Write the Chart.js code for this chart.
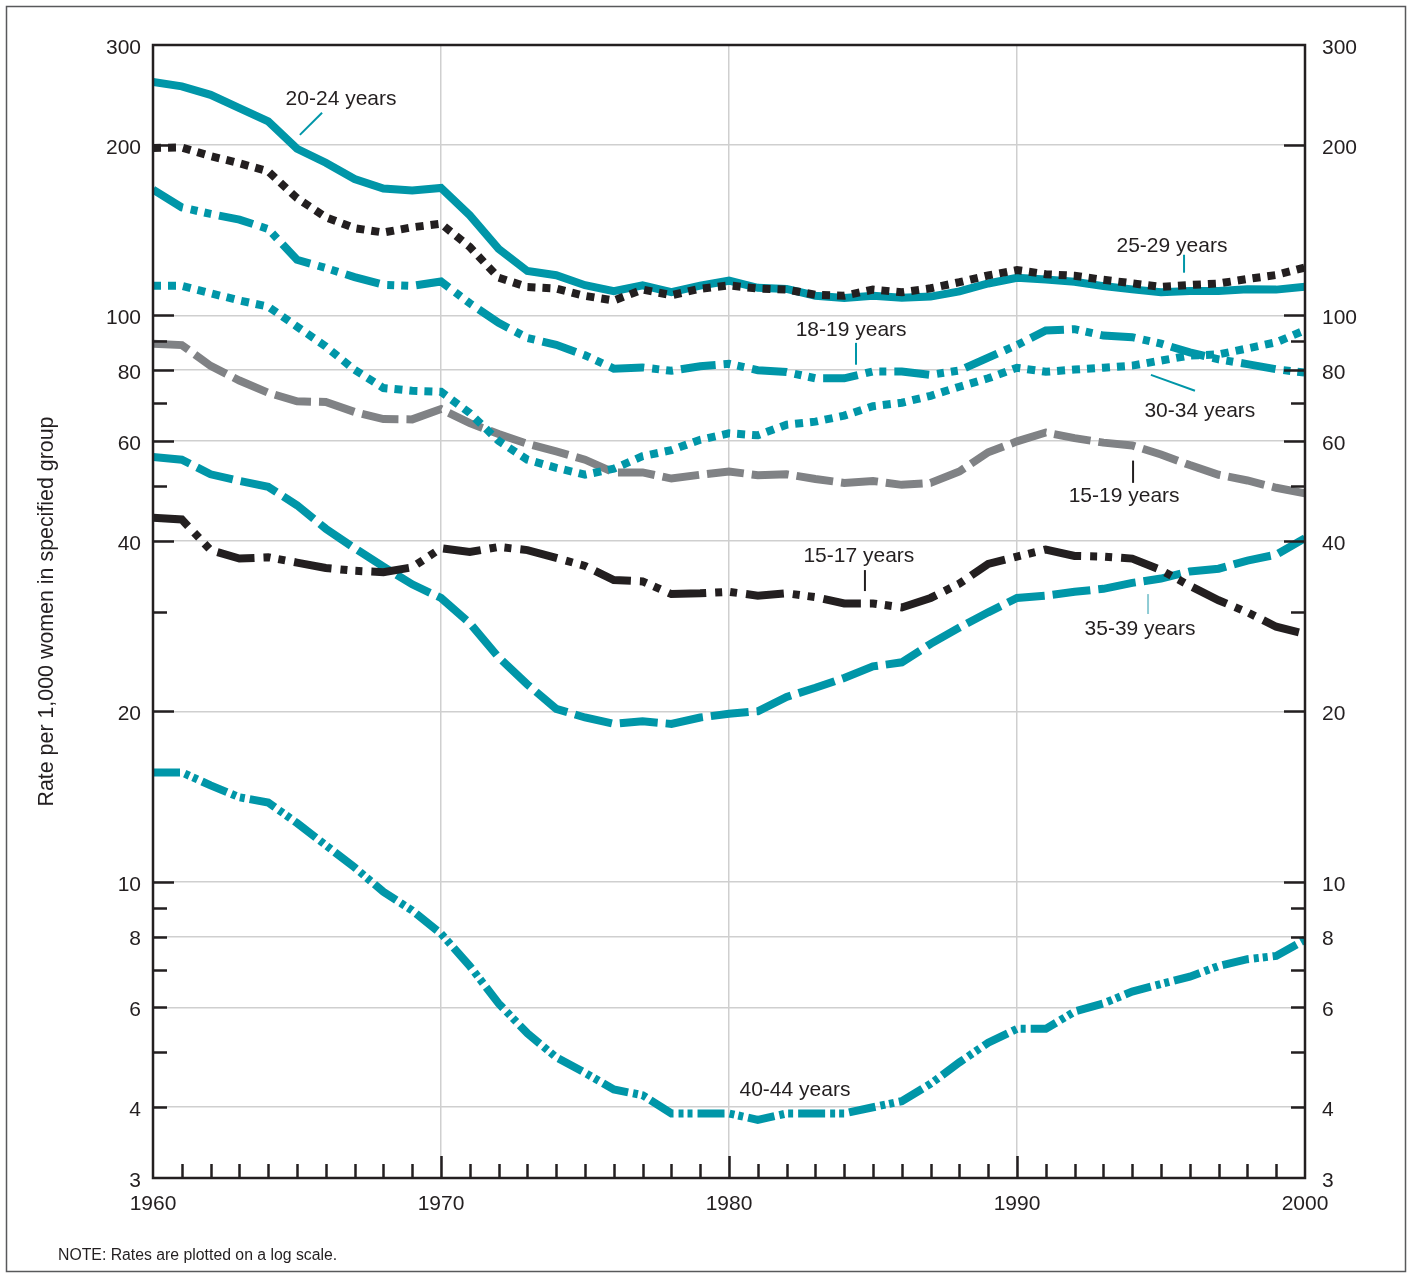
<!DOCTYPE html>
<html>
<head>
<meta charset="utf-8">
<script src="https://cdn.jsdelivr.net/npm/chart.js@4/dist/chart.umd.min.js"></script>
<style>
  html, body { margin: 0; padding: 0; background: #fff; }
  canvas { display: block; }
</style>
</head>
<body>
<canvas id="c" width="1413" height="1275"></canvas>
<script>
// ---------- DATA ----------
const years = [];
for (let y = 1960; y <= 2000; y++) years.push(y);

const rate20_24 = [258.1, 253.6, 245, 232, 220, 196.8, 185.9, 174.0, 167.4, 166.0,
                   167.8, 150.1, 131.0, 119.7, 117.7, 113.0, 110.3, 112.9, 109.9, 112.8,
                   115.1, 111.8, 111.3, 108.3, 107.3, 108.3, 107.4, 107.9, 110.2, 113.8,
                   116.5, 115.7, 114.6, 112.6, 111.1, 109.8, 110.4, 110.4, 111.2, 111.0, 112.3];
const rate25_29 = [197.4, 197.8, 191, 185.5, 179.5, 161, 149, 142.5, 140, 143,
                   145.1, 132, 116.5, 112.2, 111.5, 108.2, 106.2, 111.0, 108.5, 111.4,
                   112.9, 111.5, 111.0, 108.7, 108.3, 111.0, 109.8, 111.6, 114.4, 117.6,
                   120.2, 118.2, 117.4, 115.5, 113.9, 112.2, 113.1, 113.8, 115.9, 117.8, 121.4];
const rate18_19 = [166.7, 155, 151, 147.5, 142, 125.3, 121.2, 116.8, 113.2, 112.7,
                   114.7, 105, 97, 91.2, 88.7, 85.0, 80.5, 80.9, 79.8, 81.3,
                   82.1, 80.0, 79.4, 77.4, 77.4, 79.6, 79.6, 78.5, 79.9, 84.2,
                   88.6, 94.0, 94.5, 92.1, 91.5, 89.1, 86.0, 83.6, 82.0, 80.3, 79.2];
const rate30_34 = [112.7, 112.7, 109.4, 106.2, 103.6, 95.5, 88.1, 80.1, 74.4, 73.6,
                   73.3, 67.2, 60.0, 55.6, 53.8, 52.3, 53.6, 56.4, 57.8, 60.3,
                   61.9, 61.4, 64.1, 64.9, 66.5, 69.1, 70.1, 72.1, 74.8, 77.4,
                   80.8, 79.5, 80.2, 80.8, 81.5, 83.2, 84.9, 85.3, 87.4, 89.6, 94.1];
const rate15_19 = [89.1, 88.6, 81.4, 76.7, 73.0, 70.5, 70.3, 67.5, 65.6, 65.5,
                   68.3, 64.5, 61.7, 59.3, 57.5, 55.6, 52.8, 52.8, 51.5, 52.3,
                   53.0, 52.2, 52.4, 51.4, 50.6, 51.0, 50.2, 50.6, 53.0, 57.3,
                   59.9, 62.1, 60.7, 59.6, 58.9, 56.8, 54.4, 52.3, 51.1, 49.6, 48.5];
const rate15_17 = [43.9, 43.6, 38.5, 37.2, 37.4, 36.6, 35.8, 35.4, 35.2, 35.9,
                   38.8, 38.2, 39.0, 38.5, 37.3, 36.1, 34.1, 33.9, 32.2, 32.3,
                   32.5, 32.0, 32.3, 31.8, 31.0, 31.0, 30.5, 31.7, 33.6, 36.4,
                   37.5, 38.6, 37.6, 37.5, 37.2, 35.5, 33.3, 31.4, 29.9, 28.2, 27.4];
const rate35_39 = [56.2, 55.6, 52.4, 51.0, 49.8, 46.2, 42.0, 38.8, 36.0, 33.5,
                   31.7, 28.6, 24.9, 22.3, 20.2, 19.5, 19.0, 19.2, 19.0, 19.5,
                   19.8, 20.0, 21.2, 22.0, 22.9, 24.0, 24.4, 26.3, 28.1, 29.9,
                   31.7, 32.0, 32.5, 32.9, 33.7, 34.3, 35.3, 35.7, 36.9, 37.8, 40.4];
const rate40_44 = [15.6, 15.6, 14.8, 14.1, 13.8, 12.7, 11.6, 10.6, 9.6, 8.9,
                   8.1, 7.1, 6.1, 5.4, 4.9, 4.6, 4.3, 4.2, 3.9, 3.9,
                   3.9, 3.8, 3.9, 3.9, 3.9, 4.0, 4.1, 4.4, 4.8, 5.2,
                   5.5, 5.5, 5.9, 6.1, 6.4, 6.6, 6.8, 7.1, 7.3, 7.4, 7.9];

const yTickValues = [3, 4, 6, 8, 10, 20, 40, 60, 80, 100, 200, 300];
const xTickValues = [1960, 1970, 1980, 1990, 2000];
const yLongTicks = [10, 20, 40, 60, 80, 100, 200];
const yShortTicks = [4, 5, 6, 7, 8, 9, 30, 50, 70, 90];

// series labels: [text, year, rate]
const seriesLabels = [
  ['20-24 years', 1966.53, 241.0],
  ['25-29 years', 1995.38, 132.5],
  ['18-19 years', 1984.24, 94.3],
  ['30-34 years', 1996.35, 67.6],
  ['15-19 years', 1993.72, 48.0],
  ['15-17 years', 1984.51, 37.5],
  ['35-39 years', 1994.27, 27.95],
  ['40-44 years', 1982.29, 4.28]
];
// leader lines: [year1, rate1, year2, rate2, colour key]
const leaders = [
  [1965.87, 227.8, 1965.10, 208.2, 'teal'],
  [1995.80, 127.9, 1995.80, 118.9, 'teal'],
  [1984.41, 89.4, 1984.41, 81.8, 'teal'],
  [1994.65, 78.5, 1996.18, 73.6, 'teal'],
  [1994.03, 55.4, 1994.03, 50.6, 'ink'],
  [1984.72, 35.5, 1984.72, 32.6, 'ink'],
  [1994.55, 32.2, 1994.55, 29.7, 'light']
];

// ---------- STYLE ----------
const TEAL = '#0096a8';
const INK = '#231f20';
const GRAY = '#808285';
const LIGHT = '#8ecbd4';
const GRID = '#cfcfcf';
const FONT = '"Liberation Sans", Arial, Helvetica, sans-serif';
const colourOf = { teal: TEAL, ink: INK, light: LIGHT };

function pts(arr) { return years.map((y, i) => ({ x: y, y: arr[i] })); }
function ds(label, arr, color, dash) {
  return {
    label, data: pts(arr), borderColor: color, borderWidth: 8,
    borderDash: dash, borderCapStyle: 'butt', borderJoinStyle: 'miter',
    pointRadius: 0, tension: 0, fill: false
  };
}

const datasets = [
  ds('25-29 years', rate25_29, INK, [8, 7]),
  ds('20-24 years', rate20_24, TEAL, []),
  ds('18-19 years', rate18_19, TEAL, [35, 8, 7, 7, 7, 8]),
  ds('30-34 years', rate30_34, TEAL, [8, 7]),
  ds('15-19 years', rate15_19, GRAY, [37, 8]),
  ds('15-17 years', rate15_17, INK, [38, 9, 7, 8, 7, 9]),
  ds('35-39 years', rate35_39, TEAL, [38, 8]),
  ds('40-44 years', rate40_44, TEAL, [27, 5, 5, 4, 5, 5])
];

const decor = {
  id: 'decor',
  afterDraw(chart) {
    const { ctx, chartArea: a, scales } = chart;
    const xs = scales.x, ys = scales.y;
    ctx.save();
    // inward tick marks
    ctx.strokeStyle = INK;
    ctx.lineWidth = 2.5;
    ctx.beginPath();
    const tickY = (v, len) => {
      const p = Math.round(ys.getPixelForValue(v)) + 0.5;
      ctx.moveTo(a.left, p); ctx.lineTo(a.left + len, p);
      ctx.moveTo(a.right, p); ctx.lineTo(a.right - len, p);
    };
    yLongTicks.forEach(v => tickY(v, 21));
    yShortTicks.forEach(v => tickY(v, 14));
    years.forEach(yr => {
      if (yr === 1960 || yr === 2000) return;
      const p = Math.round(xs.getPixelForValue(yr)) + 0.5;
      const len = (yr % 10 === 0) ? 22 : 14;
      ctx.moveTo(p, a.bottom); ctx.lineTo(p, a.bottom - len);
    });
    ctx.stroke();
    // plot box
    ctx.lineWidth = 2.5;
    ctx.strokeRect(a.left, a.top, a.right - a.left, a.bottom - a.top);

    // leader lines
    ctx.lineWidth = 2;
    leaders.forEach(l => {
      ctx.strokeStyle = colourOf[l[4]];
      ctx.beginPath();
      ctx.moveTo(xs.getPixelForValue(l[0]), ys.getPixelForValue(l[1]));
      ctx.lineTo(xs.getPixelForValue(l[2]), ys.getPixelForValue(l[3]));
      ctx.stroke();
    });

    // series labels
    ctx.fillStyle = INK;
    ctx.font = '21px ' + FONT;
    ctx.textAlign = 'center';
    ctx.textBaseline = 'middle';
    seriesLabels.forEach(s => {
      ctx.fillText(s[0], xs.getPixelForValue(s[1]), ys.getPixelForValue(s[2]));
    });

    // axis title
    ctx.save();
    ctx.translate(a.left - 106, (a.top + a.bottom) / 2);
    ctx.rotate(-Math.PI / 2);
    ctx.font = '21.4px ' + FONT;
    ctx.fillText('Rate per 1,000 women in specified group', 0, 0);
    ctx.restore();

    // note
    ctx.textAlign = 'left';
    ctx.font = '15.8px ' + FONT;
    ctx.fillText('NOTE: Rates are plotted on a log scale.', 58, 1256);

    // outer frame
    ctx.strokeStyle = '#58595b';
    ctx.lineWidth = 1.5;
    ctx.strokeRect(6.5, 6.5, 1399, 1265);
    ctx.restore();
  }
};

new Chart(document.getElementById('c'), {
  type: 'line',
  data: { datasets },
  plugins: [decor],
  options: {
    responsive: false,
    animation: false,
    events: [],
    layout: { padding: { top: 45, left: 0, right: 0, bottom: 0 } },
    plugins: { legend: { display: false }, tooltip: { enabled: false }, title: { display: false } },
    scales: {
      x: {
        type: 'linear', position: 'bottom', min: 1960, max: 2000,
        afterFit(s) { s.height = 97; },
        afterBuildTicks(s) { s.ticks = xTickValues.map(v => ({ value: v })); },
        ticks: {
          autoSkip: false, maxRotation: 0, padding: 14, color: INK,
          font: { family: FONT, size: 21 },
          callback: v => String(v)
        },
        grid: {
          drawTicks: false, lineWidth: 1.5,
          color: c => (c.tick && (c.tick.value === 1960 || c.tick.value === 2000)) ? 'rgba(0,0,0,0)' : GRID
        },
        border: { display: false }
      },
      y: {
        type: 'logarithmic', position: 'left', min: 3, max: 300,
        afterFit(s) { s.width = 153; },
        afterBuildTicks(s) { s.ticks = yTickValues.map(v => ({ value: v })); },
        ticks: {
          autoSkip: false, padding: 12, labelOffset: 3, color: INK,
          font: { family: FONT, size: 21 },
          callback: v => String(v)
        },
        grid: {
          drawTicks: false, lineWidth: 1.5,
          color: c => (c.tick && (c.tick.value === 3 || c.tick.value === 300)) ? 'rgba(0,0,0,0)' : GRID
        },
        border: { display: false }
      },
      y2: {
        type: 'logarithmic', position: 'right', min: 3, max: 300,
        afterFit(s) { s.width = 108; },
        afterBuildTicks(s) { s.ticks = yTickValues.map(v => ({ value: v })); },
        ticks: {
          autoSkip: false, padding: 17, labelOffset: 3, color: INK,
          font: { family: FONT, size: 21 },
          callback: v => String(v)
        },
        grid: { drawTicks: false, drawOnChartArea: false },
        border: { display: false }
      }
    }
  }
});
</script>
</body>
</html>
